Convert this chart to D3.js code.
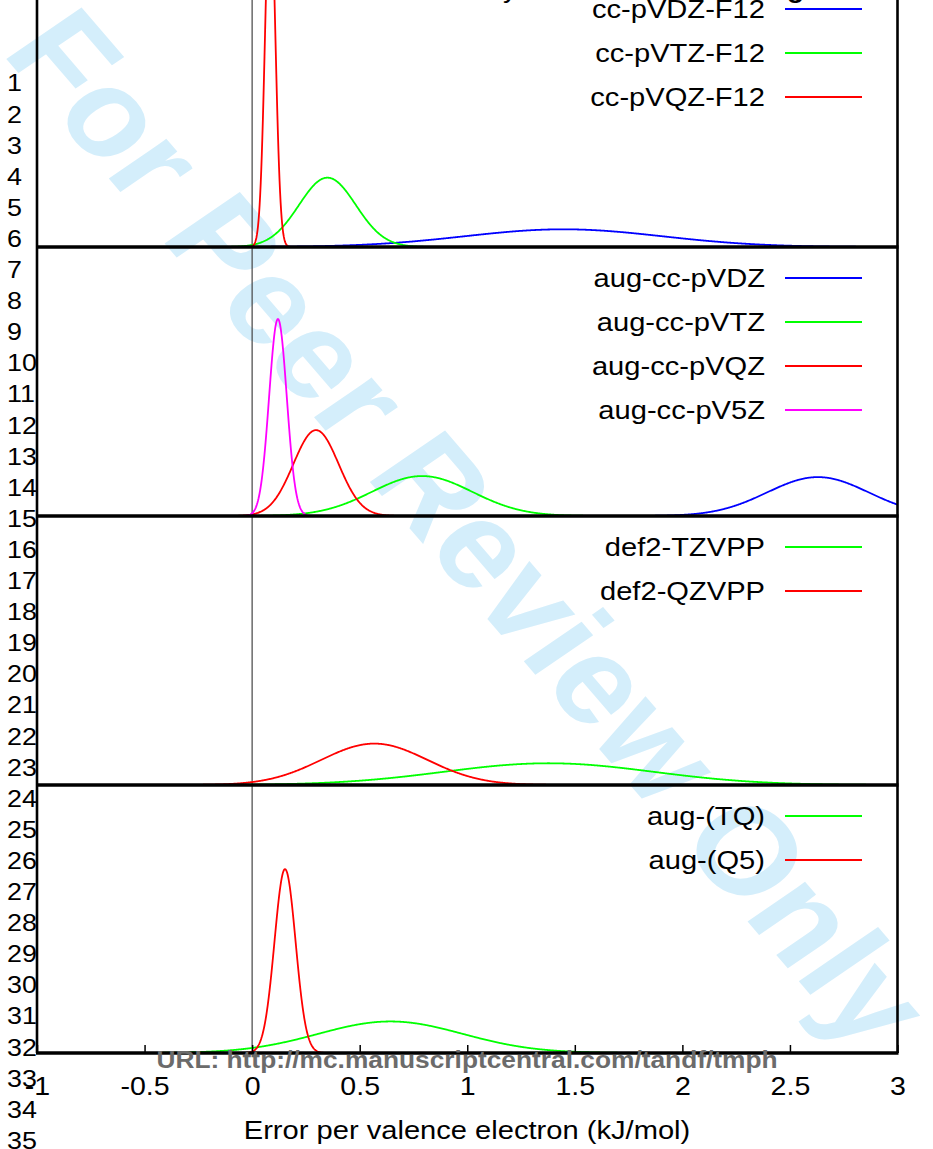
<!DOCTYPE html>
<html>
<head>
<meta charset="utf-8">
<script src="https://cdn.jsdelivr.net/npm/d3@7"></script>
<style>
  body { margin: 0; background: #fff; }
  text { font-family: "Liberation Sans", Arial, Helvetica, sans-serif; }
</style>
</head>
<body>
<svg id="chart"></svg>
<script>
// x axis
const xTicks = [-1, -0.5, 0, 0.5, 1, 1.5, 2, 2.5, 3];
const tickLabels = ['-1', '-0.5', '0', '0.5', '1', '1.5', '2', '2.5', '3'];

// panel 1: F12 basis sets
const p1Names = ['cc-pVDZ-F12', 'cc-pVTZ-F12', 'cc-pVQZ-F12'];
const p1Mean = [1.447, 0.35, 0.084];
const p1Sigma = [0.46, 0.132, 0.0238];
const p1Peak = [0.855, 3.35, 17.1];

// panel 2: aug-cc-pVnZ
const p2Names = ['aug-cc-pVDZ', 'aug-cc-pVTZ', 'aug-cc-pVQZ', 'aug-cc-pV5Z'];
const p2Mean = [2.63, 0.79, 0.297, 0.12];
const p2Sigma = [0.236, 0.233, 0.105, 0.041];
const p2Peak = [1.88, 1.93, 4.15, 9.52];

// panel 3: def2
const p3Names = ['def2-TZVPP', 'def2-QZVPP'];
const p3Mean = [1.378, 0.568];
const p3Sigma = [0.488, 0.247];
const p3Peak = [1.05, 2.0];

// panel 4: extrapolated
const p4Names = ['aug-(TQ)', 'aug-(Q5)'];
const p4Mean = [0.643, 0.153];
const p4Sigma = [0.336, 0.049];
const p4Peak = [1.53, 8.92];

const W = 933, H = 1149;
const SX = 1.12; // the page image is a bit stretched sideways
const font = '"Liberation Sans", Arial, Helvetica, sans-serif';

const svg = d3.select('#chart').attr('width', W).attr('height', H);
svg.append('rect').attr('width', W).attr('height', H).attr('fill', '#fff');

// watermark behind everything
svg.append('text')
    .attr('transform', `translate(470,528) scale(${SX},1) rotate(52.5)`)
    .attr('text-anchor', 'middle')
    .attr('dy', '0.35em')
    .attr('font-size', 123)
    .attr('font-weight', 'bold')
    .attr('fill', '#d4eefb')
    .text('For Peer Review Only');

const x = d3.scaleLinear().domain([-1, 3]).range([37, 897.5]);
const edges = [-22, 247, 516, 785, 1053];

const panels = [
    { names: p1Names, mean: p1Mean, sigma: p1Sigma, peak: p1Peak, colors: ['#0000ff', '#00ff00', '#ff0000'] },
    { names: p2Names, mean: p2Mean, sigma: p2Sigma, peak: p2Peak, colors: ['#0000ff', '#00ff00', '#ff0000', '#ff00ff'] },
    { names: p3Names, mean: p3Mean, sigma: p3Sigma, peak: p3Peak, colors: ['#00ff00', '#ff0000'] },
    { names: p4Names, mean: p4Mean, sigma: p4Sigma, peak: p4Peak, colors: ['#00ff00', '#ff0000'] }
];

// zero line
svg.append('line')
    .attr('x1', x(0)).attr('x2', x(0))
    .attr('y1', 0).attr('y2', edges[4])
    .attr('stroke', '#444').attr('stroke-width', 1.2);

const xs = d3.range(-1, 3.0001, 0.0025);

panels.forEach((p, i) => {
    const top = edges[i], bottom = edges[i + 1];
    const y = d3.scaleLinear().domain([0, 13]).range([bottom, top]);

    svg.append('clipPath').attr('id', `clip${i}`)
        .append('rect')
        .attr('x', x(-1)).attr('y', top)
        .attr('width', x(3) - x(-1)).attr('height', bottom - top);

    const line = d3.line().x(d => x(d[0])).y(d => y(d[1]));
    const g = svg.append('g').attr('clip-path', `url(#clip${i})`);

    p.names.forEach((name, j) => {
        const pts = xs.map(v => [v, p.peak[j] * Math.exp(-((v - p.mean[j]) ** 2) / (2 * p.sigma[j] ** 2))]);
        g.append('path')
            .attr('d', line(pts))
            .attr('fill', 'none')
            .attr('stroke', p.colors[j])
            .attr('stroke-width', 1.8);
    });

    // key
    p.names.forEach((name, j) => {
        const ly = top + 31 + 44 * j;
        svg.append('text')
            .attr('transform', `translate(765,${ly}) scale(${SX},1)`)
            .attr('text-anchor', 'end')
            .attr('dy', '0.35em')
            .attr('font-size', 26)
            .text(name);
        svg.append('line')
            .attr('x1', 785).attr('x2', 862)
            .attr('y1', ly).attr('y2', ly)
            .attr('stroke', p.colors[j])
            .attr('stroke-width', 1.8);
    });
});

// frame and separators
edges.slice(1).forEach(e => {
    svg.append('line')
        .attr('x1', x(-1) - 1).attr('x2', x(3) + 1)
        .attr('y1', e).attr('y2', e)
        .attr('stroke', '#000').attr('stroke-width', 3.5);
});
[x(-1), x(3)].forEach(v => {
    svg.append('line')
        .attr('x1', v).attr('x2', v)
        .attr('y1', 0).attr('y2', edges[4])
        .attr('stroke', '#000').attr('stroke-width', 2.6);
});

// bottom axis
const axis = svg.append('g')
    .attr('transform', `translate(0,${edges[4]})`)
    .call(d3.axisBottom(x)
        .tickValues(xTicks)
        .tickFormat((d, i) => tickLabels[i])
        .tickSizeInner(-8)
        .tickSizeOuter(0)
        .tickPadding(24));
axis.select('.domain').remove();
axis.selectAll('line').attr('stroke', '#000').attr('stroke-width', 1.5);
axis.selectAll('text')
    .attr('font-size', 25.5)
    .attr('font-family', font)
    .attr('fill', '#000')
    .attr('transform', `scale(${SX},1)`);

svg.append('text')
    .attr('transform', `translate(467,1130) scale(${SX},1)`)
    .attr('text-anchor', 'middle')
    .attr('dy', '0.35em')
    .attr('font-size', 26)
    .text('Error per valence electron (kJ/mol)');

// cut-off title descenders at the very top
svg.append('text').attr('transform', `translate(503,-2) scale(${SX},1)`).attr('font-size', 25).text('y');
svg.append('text').attr('transform', `translate(787,-2) scale(${SX},1)`).attr('font-size', 25).attr('font-weight', 'bold').text('g');

// manuscript line numbers
d3.range(1, 36).forEach(n => {
    svg.append('text')
        .attr('transform', `translate(7,${83 + (n - 1) * 31.1}) scale(${SX},1)`)
        .attr('dy', '0.35em')
        .attr('font-size', 24)
        .text(n);
});

// journal URL footer
svg.append('text')
    .attr('transform', `translate(467,1060) scale(${SX},1)`)
    .attr('text-anchor', 'middle')
    .attr('dy', '0.35em')
    .attr('font-size', 23.5)
    .attr('font-weight', 'bold')
    .attr('fill', '#6b6b6b')
    .text('URL: http://mc.manuscriptcentral.com/tandf/tmph');
</script>
</body>
</html>
